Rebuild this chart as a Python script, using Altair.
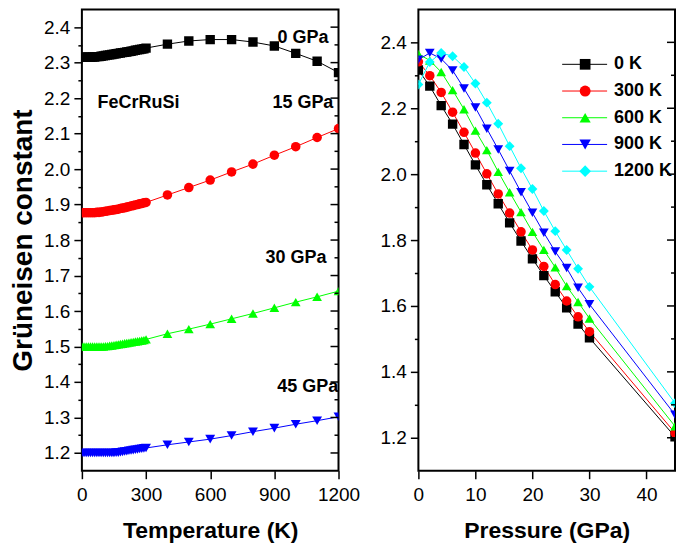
import altair as alt
import pandas as pd

# ---------------- Left panel: Grüneisen constant vs temperature ----------------
temps_K = [0, 10, 20, 30, 40, 50, 60, 70, 80, 90, 100, 110, 120, 130, 140, 150,
           160, 170, 180, 190, 200, 210, 220, 230, 240, 250, 260, 270, 280, 290, 300,
           400, 500, 600, 700, 800, 900, 1000, 1100, 1200]

gamma_0GPa = [2.315, 2.315, 2.315, 2.315, 2.315, 2.316, 2.316, 2.317, 2.317, 2.318, 2.319,
              2.320, 2.321, 2.322, 2.323, 2.324, 2.325, 2.326, 2.327, 2.328, 2.329, 2.330,
              2.331, 2.332, 2.333, 2.335, 2.336, 2.337, 2.338, 2.339, 2.341,
              2.352, 2.361, 2.365, 2.365, 2.358, 2.347, 2.326, 2.304, 2.272]
gamma_15GPa = [1.877, 1.877, 1.877, 1.877, 1.877, 1.877, 1.877, 1.878, 1.878, 1.879, 1.880,
               1.881, 1.882, 1.883, 1.884, 1.885, 1.886, 1.887, 1.889, 1.890, 1.891, 1.893,
               1.894, 1.896, 1.897, 1.899, 1.900, 1.902, 1.903, 1.905, 1.906,
               1.927, 1.948, 1.969, 1.992, 2.014, 2.039, 2.063, 2.089, 2.114]
gamma_30GPa = [1.500, 1.500, 1.500, 1.500, 1.500, 1.500, 1.500, 1.500, 1.500, 1.500, 1.500,
               1.501, 1.501, 1.502, 1.503, 1.504, 1.505, 1.506, 1.507, 1.508, 1.509, 1.510,
               1.511, 1.512, 1.513, 1.514, 1.515, 1.516, 1.517, 1.518, 1.520,
               1.536, 1.549, 1.563, 1.578, 1.593, 1.609, 1.625, 1.640, 1.656]
gamma_45GPa = [1.200, 1.200, 1.200, 1.200, 1.200, 1.200, 1.200, 1.200, 1.200, 1.200, 1.200,
               1.200, 1.200, 1.200, 1.200, 1.200, 1.201, 1.201, 1.202, 1.203, 1.204, 1.205,
               1.206, 1.207, 1.208, 1.209, 1.210, 1.211, 1.212, 1.213, 1.214,
               1.223, 1.231, 1.239, 1.249, 1.260, 1.270, 1.281, 1.291, 1.302]
pressure_labels = ["0 GPa", "15 GPa", "30 GPa", "45 GPa"]

left_note_text = ["0 GPa", "15 GPa", "FeCrRuSi", "30 GPa", "45 GPa"]
left_note_T = [915, 891, 73, 859, 914]
left_note_g = [2.369, 2.186, 2.186, 1.748, 1.386]

left_x_ticks = [0, 150, 300, 450, 600, 750, 900, 1050, 1200]
left_y_major = [1.2, 1.3, 1.4, 1.5, 1.6, 1.7, 1.8, 1.9, 2.0, 2.1, 2.2, 2.3, 2.4]
left_y_minor = [1.25, 1.35, 1.45, 1.55, 1.65, 1.75, 1.85, 1.95, 2.05, 2.15, 2.25, 2.35]

# ---------------- Right panel: Grüneisen constant vs pressure ----------------
pressures_GPa = [0, 2, 4, 6, 8, 10, 12, 14, 16, 18, 20, 22, 24, 26, 28, 30, 45]
gamma_0K = [2.316, 2.267, 2.208, 2.152, 2.090, 2.028, 1.968, 1.910, 1.852, 1.797, 1.743,
            1.692, 1.643, 1.594, 1.545, 1.503, 1.203]
gamma_300K = [2.341, 2.299, 2.248, 2.188, 2.127, 2.064, 2.001, 1.940, 1.882, 1.825, 1.770,
              1.720, 1.665, 1.615, 1.567, 1.522, 1.215]
gamma_600K = [2.365, 2.345, 2.310, 2.255, 2.197, 2.132, 2.073, 2.007, 1.945, 1.885, 1.825,
              1.770, 1.717, 1.660, 1.612, 1.562, 1.235]
gamma_900K = [2.347, 2.368, 2.350, 2.315, 2.260, 2.202, 2.138, 2.075, 2.010, 1.945, 1.883,
              1.822, 1.765, 1.715, 1.655, 1.605, 1.270]
gamma_1200K = [2.272, 2.340, 2.368, 2.358, 2.325, 2.275, 2.217, 2.153, 2.085, 2.018, 1.955,
               1.888, 1.827, 1.770, 1.713, 1.658, 1.305]
temp_labels = ["0 K", "300 K", "600 K", "900 K", "1200 K"]

right_x_ticks = [0, 5, 10, 15, 20, 25, 30, 35, 40]
right_y_major = [1.2, 1.4, 1.6, 1.8, 2.0, 2.2, 2.4]
right_y_minor = [1.3, 1.5, 1.7, 1.9, 2.1, 2.3]

series_colors = ["#000000", "#FF0000", "#00FF00", "#0000FF", "#00FFFF"]
series_shapes = ["square", "circle", "triangle-up", "triangle-down", "diamond"]
series_sizes = [88, 98, 118, 118, 124]

FONT = "Liberation Sans"
W1, W2, H = 257, 257, 462

# ---------------- tables ----------------
left_rows = []
for lab, vals in zip(pressure_labels, [gamma_0GPa, gamma_15GPa, gamma_30GPa, gamma_45GPa]):
    for t, g in zip(temps_K, vals):
        left_rows.append({"T": t, "g": g, "P_label": lab})
left_df = pd.DataFrame(left_rows)
notes_df = pd.DataFrame({"T": left_note_T, "g": left_note_g, "text": left_note_text})

right_rows = []
for lab, vals in zip(temp_labels, [gamma_0K, gamma_300K, gamma_600K, gamma_900K, gamma_1200K]):
    for p, g in zip(pressures_GPa, vals):
        right_rows.append({"P": p, "g": g, "T_label": lab})
right_df = pd.DataFrame(right_rows)
legend_df = pd.DataFrame({"T_label": temp_labels})


def cond_size(test, major, minor):
    return {"condition": {"test": test, "value": major}, "value": minor}


def bottom_axis(values, test, title):
    return alt.Axis(orient="bottom", values=values, grid=False, domain=False,
                    tickSize=cond_size(test, 8, 4), tickColor="black", tickWidth=1.5,
                    labelExpr=f"({test}) ? format(datum.value, 'd') : ''",
                    labelFont=FONT, labelFontSize=19, labelColor="black", labelPadding=7,
                    labelOverlap=False, labelFlush=False,
                    title=title, titleFont=FONT, titleFontSize=23, titleFontWeight="bold",
                    titleColor="black", titlePadding=15)


def left_axis(values, test, title):
    kw = dict(orient="left", values=values, grid=False, domain=False,
              tickSize=cond_size(test, 8, 4), tickColor="black", tickWidth=1.5,
              labelExpr=f"({test}) ? format(datum.value, '.1f') : ''",
              labelFont=FONT, labelFontSize=19, labelColor="black", labelPadding=4,
              labelOverlap=False, labelFlush=False)
    if title:
        kw.update(title=title, titleFont=FONT, titleFontSize=28, titleFontWeight="bold",
                  titleColor="black", titlePadding=6)
    else:
        kw.update(title=None)
    return alt.Axis(**kw)


def mirror_ticks(values, yscale, W, length):
    df = pd.DataFrame({"v": values})
    return alt.Chart(df).mark_rule(color="black", strokeWidth=1.5).encode(
        x=alt.value(W), x2=alt.value(W - length),
        y=alt.Y("v:Q", scale=yscale, axis=None),
    )


# ---------------- left panel ----------------
lx = alt.Scale(domain=[0, 1200], nice=False, zero=False)
ly = alt.Scale(domain=[1.15, 2.45], nice=False, zero=False)
lc = alt.Scale(domain=pressure_labels, range=series_colors[:4])
ls = alt.Scale(domain=pressure_labels, range=series_shapes[:4])
lsz = alt.Scale(domain=pressure_labels, range=series_sizes[:4])
x_test_l = "datum.value % 300 === 0"
y_test_l = "abs(datum.value*10 - round(datum.value*10)) < 0.001"

lbase = alt.Chart(left_df)
l_lines = lbase.mark_line(strokeWidth=1, clip=True).encode(
    x=alt.X("T:Q", scale=lx, axis=bottom_axis(left_x_ticks, x_test_l, "Temperature (K)")),
    y=alt.Y("g:Q", scale=ly,
            axis=left_axis(left_y_major + left_y_minor, y_test_l, "Grüneisen constant")),
    color=alt.Color("P_label:N", scale=lc, legend=None),
)
l_points = lbase.mark_point(filled=True, opacity=1, clip=True).encode(
    x=alt.X("T:Q", scale=lx),
    y=alt.Y("g:Q", scale=ly, axis=None),
    color=alt.Color("P_label:N", scale=lc, legend=None),
    shape=alt.Shape("P_label:N", scale=ls, legend=None),
    size=alt.Size("P_label:N", scale=lsz, legend=None),
)
l_notes = alt.Chart(notes_df).mark_text(
    align="left", baseline="middle", font=FONT, fontSize=18, fontWeight="bold", color="black"
).encode(
    x=alt.X("T:Q", scale=lx),
    y=alt.Y("g:Q", scale=ly, axis=None),
    text="text:N",
)
left = alt.layer(
    l_lines, l_points, l_notes,
    mirror_ticks(left_y_major, ly, W1, 8), mirror_ticks(left_y_minor, ly, W1, 4),
).resolve_scale(y="independent").properties(width=W1, height=H)

# ---------------- right panel ----------------
rx = alt.Scale(domain=[0, 45], nice=False, zero=False)
ry = alt.Scale(domain=[1.1, 2.5], nice=False, zero=False)
rc = alt.Scale(domain=temp_labels, range=series_colors)
rs = alt.Scale(domain=temp_labels, range=series_shapes)
rsz = alt.Scale(domain=temp_labels, range=series_sizes)
x_test_r = "datum.value % 10 === 0"
y_test_r = "abs(datum.value*5 - round(datum.value*5)) < 0.001"

rbase = alt.Chart(right_df)
r_lines = rbase.mark_line(strokeWidth=1, clip=True).encode(
    x=alt.X("P:Q", scale=rx, axis=bottom_axis(right_x_ticks, x_test_r, "Pressure (GPa)")),
    y=alt.Y("g:Q", scale=ry, axis=left_axis(right_y_major + right_y_minor, y_test_r, None)),
    color=alt.Color("T_label:N", scale=rc, legend=None),
)
r_points = rbase.mark_point(filled=True, opacity=1, clip=True).encode(
    x=alt.X("P:Q", scale=rx),
    y=alt.Y("g:Q", scale=ry, axis=None),
    color=alt.Color("T_label:N", scale=rc, legend=None),
    shape=alt.Shape("T_label:N", scale=rs, legend=None),
    size=alt.Size("T_label:N", scale=rsz, legend=None),
)
leg_y = alt.Y("T_label:N", scale=alt.Scale(type="point", domain=temp_labels,
                                           range=[55, 162], padding=0), axis=None)
lg = alt.Chart(legend_df)
r_leg_rule = lg.mark_rule(strokeWidth=1).encode(
    x=alt.value(144), x2=alt.value(189), y=leg_y,
    color=alt.Color("T_label:N", scale=rc, legend=None),
)
r_leg_pt = lg.mark_point(filled=True, opacity=1).encode(
    x=alt.value(167), y=leg_y,
    color=alt.Color("T_label:N", scale=rc, legend=None),
    shape=alt.Shape("T_label:N", scale=rs, legend=None),
    size=alt.Size("T_label:N", scale=alt.Scale(domain=temp_labels,
                                              range=[115, 135, 155, 155, 165]), legend=None),
)
r_leg_txt = lg.mark_text(align="left", baseline="middle", font=FONT, fontSize=18,
                         fontWeight="bold", color="black").encode(
    x=alt.value(196), y=leg_y, text="T_label:N",
)
right = alt.layer(
    r_lines, r_points,
    mirror_ticks(right_y_major, ry, W2, 8), mirror_ticks(right_y_minor, ry, W2, 4),
    r_leg_rule, r_leg_pt, r_leg_txt,
).resolve_scale(y="independent", size="independent").properties(width=W2, height=H)

chart = alt.hconcat(left, right, spacing=17).resolve_scale(
    color="independent", shape="independent", size="independent"
).properties(padding=0).configure_view(stroke="black", strokeWidth=2)

chart.save("out.html", embed_options={"renderer": "svg", "actions": False})
